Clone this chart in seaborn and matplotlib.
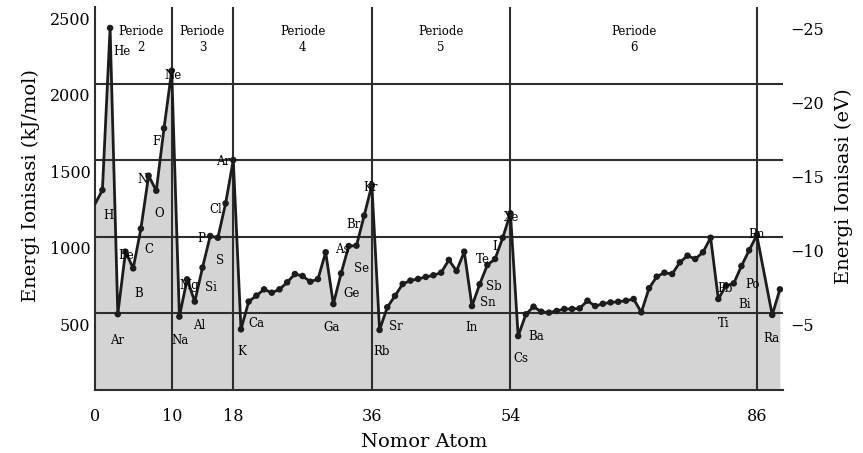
import matplotlib
matplotlib.use("Agg")
import matplotlib.pyplot as plt
import matplotlib.transforms as mtransforms
import seaborn as sns
import pandas as pd

# ---------------- data ----------------
atomic_number = list(range(1, 87)) + [88, 89]
ionization_kj = [
    1305, 2363,                                            # H, He
    495, 903, 794, 1053, 1399, 1301, 1708, 2084,           # Li..Ne
    479, 722, 577, 799, 1005, 994, 1218, 1501,             # Na..Ar
    396, 577, 616, 657, 635, 657, 703, 757, 744, 707,      # K..Ni
    724, 899, 561, 761, 940, 942, 1138, 1338,              # Cu..Kr
    392, 540, 614, 692, 714, 725, 738, 749, 766, 849,      # Rb..Pd
    777, 903, 548, 690, 816, 855, 994, 1153,               # Ag..Xe
    352, 494, 544, 511, 505, 516, 529, 529, 533, 583,      # Cs..Gd
    548, 563, 572, 576, 583, 594, 507, 664, 740, 766,      # Tb..W
    757, 833, 877, 855, 899, 994, 594, 681, 696, 809,      # Re..Po
    912, 1010,                                             # At, Rn
    490, 657,                                              # Ra, Ac
]
lead_in_z = [0]
lead_in_kj = [1210]

period_bounds = [2, 10, 18, 36, 54, 86]
period_word = "Periode"
period_numbers = ["2", "3", "4", "5", "6"]
divider_lines = [10, 18, 36, 54, 86]
level_lines = [500, 1000, 1500, 2000]

x_ticks = [0, 10, 18, 36, 54, 86]
y_ticks_kj = [500, 1000, 1500, 2000, 2500]
y_ticks_ev = [-5, -10, -15, -20, -25]
KJ_PER_EV = 96.485

element_labels = ["H", "He", "Ar", "Be", "B", "C", "N", "O", "F", "Ne",
                  "Na", "Mg", "Al", "Si", "P", "S", "Cl", "Ar", "K", "Ca",
                  "Ga", "Ge", "As", "Se", "Br", "Kr", "Rb", "Sr", "In", "Sn",
                  "Sb", "Te", "I", "Xe", "Cs", "Ba", "Ti", "Pb", "Bi", "Po",
                  "Rn", "Ra"]
label_x = [1.77, 3.6, 2.94, 4.07, 5.67, 7.1, 6.19, 8.4, 7.96, 10.13,
           11.08, 12.25, 13.6, 15.07, 13.8, 16.28, 15.76, 16.7, 19.1, 21.05,
           30.8, 33.4, 32.1, 34.7, 33.6, 35.77, 37.3, 39.1, 49.0, 51.06,
           51.8, 50.4, 51.9, 54.2, 55.3, 57.3, 81.7, 81.9, 84.4, 85.4,
           86.0, 87.9]
label_y = [1142, 2210, 322, 881, 631, 918, 1375, 1153, 1621, 2056,
           326, 685, 424, 670, 990, 844, 1179, 1490, 250, 435,
           409, 627, 920, 790, 1081, 1321, 250, 413, 409, 570,
           674, 849, 935, 1125, 206, 348, 435, 664, 555, 690,
           1018, 337]

# ---------------- figure ----------------
sns.set_theme(style="white")
plt.rcParams["font.family"] = ["DejaVu Serif"]
plt.rcParams["axes.unicode_minus"] = True

W, H = 863, 453
fig = plt.figure(figsize=(W / 100, H / 100), dpi=100)
ax = fig.add_axes([94.7 / W, 63 / H, 688.3 / W, 383 / H])

line_df = pd.DataFrame({"Z": lead_in_z + atomic_number,
                        "IE": lead_in_kj + ionization_kj})
pts_df = pd.DataFrame({"Z": atomic_number, "IE": ionization_kj})

ink = "#1c1c1c"
grid = "#2e2e2e"

ax.fill_between(line_df["Z"], 0, line_df["IE"], color="#d4d4d4", lw=0, zorder=1)
for v in level_lines:
    ax.axhline(v, color=grid, lw=1.5, zorder=2)
for z in divider_lines:
    ax.axvline(z, color=grid, lw=1.5, zorder=2)

sns.lineplot(data=line_df, x="Z", y="IE", color=ink, lw=2.0, ax=ax,
             zorder=3, sort=False, estimator=None)
sns.scatterplot(data=pts_df, x="Z", y="IE", color=ink, s=22, ax=ax,
                zorder=4, edgecolor="none")

for t, x, y in zip(element_labels, label_x, label_y):
    ax.text(x, y, t, fontsize=8.5, ha="center", va="center", color="black", zorder=5)

for i, num in enumerate(period_numbers):
    xc = (period_bounds[i] + period_bounds[i + 1]) / 2
    ax.text(xc, 2343, period_word, fontsize=8.5, ha="center", va="center",
            color="black", zorder=5)
    ax.text(xc, 2238, num, fontsize=8.5, ha="center", va="center",
            color="black", zorder=5)

ax.set_xlim(0, 89.4)
ax.set_ylim(0, 2500)
ax.set_xticks(x_ticks)
ax.set_xticklabels([str(v) for v in x_ticks])
ax.set_yticks(y_ticks_kj)
ax.set_yticklabels([str(v) for v in y_ticks_kj])
ax.tick_params(axis="both", length=0, labelsize=11.5, colors="black")
ax.tick_params(axis="x", pad=13)
ax.tick_params(axis="y", pad=3)

for side in ["top", "right"]:
    ax.spines[side].set_visible(False)
for side in ["left", "bottom"]:
    ax.spines[side].set_color(grid)
    ax.spines[side].set_linewidth(1.5)

ax.set_xlabel("Nomor Atom", fontsize=14, color="black")
ax.set_ylabel("Energi Ionisasi (kJ/mol)", fontsize=14, color="black")
ax.xaxis.set_label_coords(0.478, -0.112)
ax.yaxis.set_label_coords(-0.0795, 0.533)

ax2 = ax.twinx()
ax2.set_ylim(0, -2500 / KJ_PER_EV)
ax2.set_yticks(y_ticks_ev)
ax2.set_yticklabels(["\u2212" + str(abs(v)) for v in y_ticks_ev])
ax2.tick_params(axis="y", length=0, labelsize=11.5, pad=5, colors="black")
for side in ax2.spines:
    ax2.spines[side].set_visible(False)
ax2.set_ylabel("Energi Ionisasi (eV)", fontsize=14, color="black")
ax2.yaxis.set_label_coords(1.0756, 0.533)
ax2.grid(False)
ax.grid(False)

off_left = mtransforms.ScaledTranslation(0, -11 / 100, fig.dpi_scale_trans)
for tk in ax.yaxis.get_major_ticks():
    tk.label1.set_transform(tk.label1.get_transform() + off_left)
off_right = mtransforms.ScaledTranslation(0, -8 / 100, fig.dpi_scale_trans)
for tk in ax2.yaxis.get_major_ticks():
    tk.label2.set_transform(tk.label2.get_transform() + off_right)

fig.savefig("out.png", dpi=100)
